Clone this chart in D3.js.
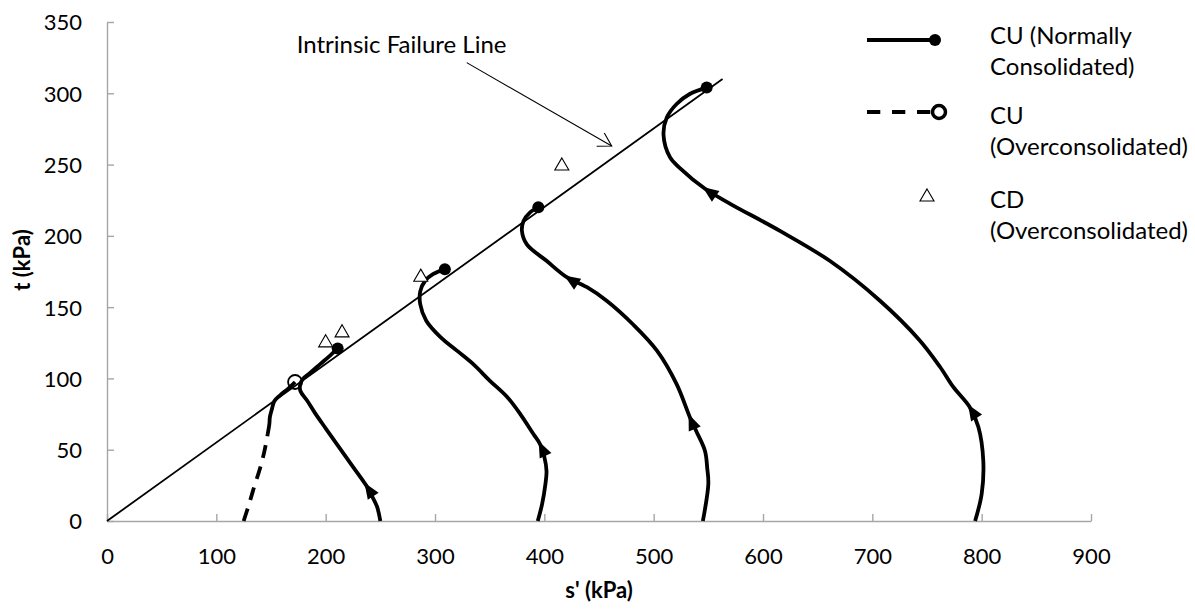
<!DOCTYPE html>
<html><head><meta charset="utf-8">
<script src="https://cdn.jsdelivr.net/npm/d3@7"></script>
<style>
body{margin:0;background:#fff;}
text{font-family:Lato,"Open Sans",sans-serif;fill:#000;}
</style></head><body>
<svg id="chart" width="1195" height="609"></svg>
<script>
// Axis ticks
const sTicks = [0,100,200,300,400,500,600,700,800,900];
const tTicks = [0,50,100,150,200,250,300,350];

// Intrinsic failure line (s', t) end points
const failureS = [0, 563];
const failureT = [0, 310];

// CU, normally consolidated stress paths (s' kPa, t kPa)
const nc1S = [250,247,242,237,225,212,200,190,183,177,176.5,179,186,195,204,211];
const nc1T = [0,10,18,25,38,52,65,76,84.5,91,95,99.5,104,110,116,121];
const nc2S = [394,398,401,402,400,396,390,378,366,350,335,320,305,292,286.5,286.5,291,298.5,309];
const nc2T = [0,12,26,35,45,54,61,75,87,98.5,110,119.5,129,140.5,152,161,168.5,173.3,176.5];
const nc3S = [545,550,549,547,539,533,521,503,481,457,439,420.5,402,384,379.5,381,387,394.5];
const nc3T = [0,26,37,49,63,73,96,119.5,138,154.5,164,171,182.5,194,203.5,210.5,216.5,220];
const nc4S = [794,800,801.5,797,789,774,762,743,707,661,615.5,570,547,524,515,509,512,521,533,548.5];
const nc4T = [0,19,42,66,80,94,108,127,154.5,182.5,203.5,222.5,233,247.5,255,271,283,292.5,299.5,304];
// indices of the points where a direction arrow sits on each path
const nc1Arrows = [3];
const nc2Arrows = [5];
const nc3Arrows = [5, 11];
const nc4Arrows = [4, 12];

// CU, overconsolidated stress path
const ocS = [125,130,135,140,144,147,148.5,149,151,153,158,166,172];
const ocT = [0,12,25,37,49,61,68,73,79,84,88,93,97.5];
const ocDashedUpTo = 5; // sparse lower part drawn dashed

// CD, overconsolidated failure points
const cdS = [200,215,287,416];
const cdT = [125,132,171,249];

const svg = d3.select("#chart");
const x = d3.scaleLinear().domain([0,900]).range([107,1091]);
const y = d3.scaleLinear().domain([0,350]).range([521,22]);
const axisColor = "#a6a6a6";

// axes
const xAxis = svg.append("g").attr("transform",`translate(0,${y(0)})`)
  .call(d3.axisBottom(x).tickValues(sTicks).tickSizeInner(-7).tickSizeOuter(0).tickFormat(d3.format("d")));
const yAxis = svg.append("g").attr("transform",`translate(${x(0)},0)`)
  .call(d3.axisLeft(y).tickValues(tTicks).tickSizeInner(-7).tickSizeOuter(0).tickFormat(d3.format("d")));
[xAxis,yAxis].forEach(g=>{
  g.select(".domain").attr("stroke",axisColor).attr("stroke-width",1.4);
  g.selectAll(".tick line").attr("stroke",axisColor).attr("stroke-width",1.4);
  g.selectAll(".tick text").style("font-size","22px").attr("fill","#000");
});
xAxis.selectAll(".tick text").attr("y",null).attr("dy",null).attr("transform","translate(0,43)");
yAxis.selectAll(".tick text").attr("x",-25).attr("dy","0.36em");

// axis titles
svg.append("text").attr("x",599).attr("y",598).attr("text-anchor","middle")
  .style("font-size","22px").style("font-weight","bold").text("s' (kPa)");
svg.append("text").attr("transform","translate(30,260) rotate(-90)").attr("text-anchor","middle")
  .style("font-size","22px").style("font-weight","bold").text("t (kPa)");

// failure line
svg.append("line")
  .attr("x1",x(failureS[0])).attr("y1",y(failureT[0]))
  .attr("x2",x(failureS[1])).attr("y2",y(failureT[1]))
  .attr("stroke","#000").attr("stroke-width",1.8);

const line = d3.line().x(d=>x(d[0])).y(d=>y(d[1])).curve(d3.curveCatmullRom.alpha(0.5));
const zip = (a,b)=>a.map((v,i)=>[v,b[i]]);

// overconsolidated path
const oc = zip(ocS,ocT);
svg.append("path").attr("d",line(oc.slice(0,ocDashedUpTo+1)))
  .attr("fill","none").attr("stroke","#000").attr("stroke-width",3.8).attr("stroke-dasharray","13,9");
svg.append("path").attr("d",line(oc.slice(ocDashedUpTo)))
  .attr("fill","none").attr("stroke","#000").attr("stroke-width",3.8);

// normally consolidated paths with arrows
const ncPaths = [
  [zip(nc1S,nc1T), nc1Arrows],
  [zip(nc2S,nc2T), nc2Arrows],
  [zip(nc3S,nc3T), nc3Arrows],
  [zip(nc4S,nc4T), nc4Arrows]
];
ncPaths.forEach(([pts,arrows])=>{
  svg.append("path").attr("d",line(pts))
    .attr("fill","none").attr("stroke","#000").attr("stroke-width",3.8)
    .attr("stroke-linejoin","round");
  arrows.forEach(i=>{
    const a = pts[i-1], b = pts[i+1], tip = pts[i];
    const ang = Math.atan2(y(b[1])-y(a[1]), x(b[0])-x(a[0]))*180/Math.PI;
    svg.append("path").attr("d","M3,0 L-13,-6.5 L-13,6.5 Z").attr("fill","#000")
      .attr("transform",`translate(${x(tip[0])},${y(tip[1])}) rotate(${ang})`);
  });
  const end = pts[pts.length-1];
  svg.append("circle").attr("cx",x(end[0])).attr("cy",y(end[1])).attr("r",6).attr("fill","#000");
});

// open circle at the end of the overconsolidated path
const ocEnd = oc[oc.length-1];
svg.append("circle").attr("cx",x(ocEnd[0])).attr("cy",y(ocEnd[1])).attr("r",7)
  .attr("fill","none").attr("stroke","#000").attr("stroke-width",1.8);

// CD points
const tri = d3.symbol().type(d3.symbolTriangle).size(85);
svg.selectAll(".cd").data(zip(cdS,cdT)).enter().append("path")
  .attr("d",tri).attr("transform",d=>`translate(${x(d[0])},${y(d[1])})`)
  .attr("fill","#fff").attr("stroke","#000").attr("stroke-width",1.1);

// annotation
const note = {text:"Intrinsic Failure Line", s:173.5, t:328, fromS:329, fromT:321.5, toS:461.6, toT:263};
svg.append("text").attr("x",x(note.s)).attr("y",y(note.t)).style("font-size","24px").text(note.text);
const ax1 = x(note.fromS), ay1 = y(note.fromT), ax2 = x(note.toS), ay2 = y(note.toT);
svg.append("line").attr("x1",ax1).attr("y1",ay1).attr("x2",ax2).attr("y2",ay2)
  .attr("stroke","#000").attr("stroke-width",1.1);
const aa = Math.atan2(ay2-ay1, ax2-ax1);
const head = [aa+Math.PI*0.83, aa-Math.PI*0.83].map(a=>[ax2+15*Math.cos(a), ay2+15*Math.sin(a)]);
svg.append("path").attr("d",`M${head[0][0]},${head[0][1]} L${ax2},${ay2} L${head[1][0]},${head[1][1]}`)
  .attr("fill","none").attr("stroke","#000").attr("stroke-width",1.1);

// legend
const lg = svg.append("g");
lg.append("line").attr("x1",867).attr("x2",935).attr("y1",40).attr("y2",40).attr("stroke","#000").attr("stroke-width",3.8);
lg.append("circle").attr("cx",935).attr("cy",40).attr("r",6).attr("fill","#000");
lg.append("line").attr("x1",867).attr("x2",932).attr("y1",112).attr("y2",112).attr("stroke","#000")
  .attr("stroke-width",3.8).attr("stroke-dasharray","13.3,11.7");
lg.append("circle").attr("cx",939).attr("cy",112).attr("r",6.5).attr("fill","#fff").attr("stroke","#000").attr("stroke-width",3.5);
lg.append("path").attr("d",tri).attr("transform","translate(927,197)")
  .attr("fill","#fff").attr("stroke","#000").attr("stroke-width",1.1);
const legendText = [
  ["CU (Normally",44],["Consolidated)",75],
  ["CU",124],["(Overconsolidated)",154.5],
  ["CD",208],["(Overconsolidated)",238.5]
];
legendText.forEach(([t,yy])=>lg.append("text").attr("x",990).attr("y",yy).style("font-size","24px").text(t));
</script>
</body></html>
